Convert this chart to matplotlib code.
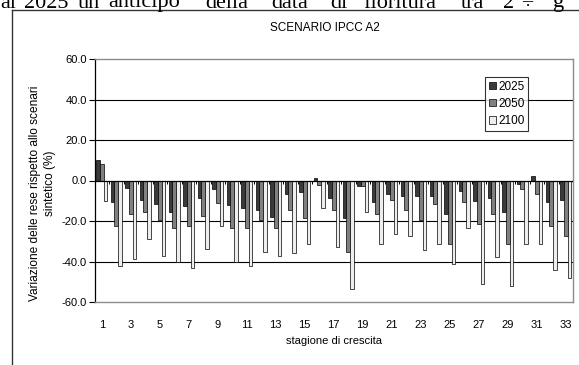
import numpy as np
import matplotlib
matplotlib.use("Agg")
import matplotlib.pyplot as plt
from matplotlib.patches import Patch
from matplotlib.lines import Line2D

# stagioni di crescita 1..33, variazione delle rese (%)
stagioni = np.arange(1, 34)
v2025 = [10, -10.7, -3.8, -9.7, -11.5, -15.5, -12.7, -8.5, -4, -12, -13.5,
         -14.5, -17.8, -6.5, -5.8, 1, -8.5, -18.4, -2.7, -10.7, -6.5, -7.8,
         -7.8, -7.8, -16.4, -5, -10, -8.5, -15.6, -1.6, 2, -10.7, -9.7]
v2050 = [8, -22.6, -16.5, -15.5, -19.5, -23.5, -22.6, -17.5, -11, -23.5, -23.5,
         -19.5, -23.5, -14.5, -18.5, -2, -14.5, -35.2, -2.7, -16.3, -9.7, -14.8,
         -19.7, -11.5, -31.5, -10.7, -21.7, -16.4, -31.5, -4, -6.5, -22.5, -27.4]
v2100 = [-10, -42.3, -39, -29, -37.3, -40.2, -43, -34, -22.6, -40, -42,
         -35.5, -37.4, -36, -31.3, -13.5, -33, -53.7, -15.5, -31.3, -26.3, -27.4,
         -34.3, -31.5, -41, -23.6, -51, -38, -52, -31.5, -31.5, -44, -48]
serie = ["2025", "2050", "2100"]
colori = ["#3a3a3a", "#808080", "#eeeeee"]
yticks = [-60, -40, -20, 0, 20, 40, 60]
top_words = ["al", "2025", "un", "anticipo", "della", "data", "di",
             "fioritura", "tra", "2", "÷", "g"]
top_x = [0, 24, 78, 108, 205, 271, 330, 363, 461, 503, 521, 553]

W, H = 579, 365
fig = plt.figure(figsize=(W / 100, H / 100), dpi=100)
fig.patch.set_facecolor("white")
plt.rcParams['font.family'] = ['Liberation Sans', 'DejaVu Sans']

ax = fig.add_axes([94.5 / W, 1 - 302 / H, (573 - 94.5) / W, (302 - 59) / H])

w = 0.25
for i, (vals, c) in enumerate(zip([v2025, v2050, v2100], colori)):
    ax.bar(stagioni + (i - 1) * w, vals, width=w, color=c,
           edgecolor="black", linewidth=0.5, zorder=3)

ax.set_xlim(0.5, 33.5)
ax.set_ylim(-60, 60)

for g in [-40, -20, 20, 40]:
    ax.axhline(g, color="black", lw=0.8, zorder=1)
ax.axhline(0, color="black", lw=0.9, zorder=4)
# tick marks on the category axis (at zero)
ax.vlines(np.arange(0.5, 34, 1), -1.6, 0, color="black", lw=0.7, zorder=4)

for s in ["top", "right", "bottom"]:
    ax.spines[s].set_color("#8c8c8c")
    ax.spines[s].set_linewidth(1.0)
ax.spines["left"].set_color("black")
ax.spines["left"].set_linewidth(0.9)

ax.set_yticks(yticks)
ax.set_yticklabels(["%.1f" % t for t in yticks], fontsize=8)
ax.tick_params(axis="y", length=4, width=0.8, pad=1.5)
ax.set_xticks(stagioni[::2])
ax.set_xticklabels([str(s) for s in stagioni[::2]], fontsize=8)
ax.tick_params(axis="x", length=0, pad=13)
ax.set_xlabel("stagione di crescita", fontsize=8, labelpad=4)

fig.text(325 / W, 1 - 28 / H, "SCENARIO IPCC A2", fontsize=8.5,
         ha="center", va="center")

fig.text(35 / W, 1 - 301 / H, "Variazione delle rese rispetto allo scenari",
         fontsize=8.6, rotation=90, ha="center", va="bottom")
fig.text(50 / W, 1 - 183 / H, "sintetico (%)", fontsize=8.6, rotation=90,
         ha="center", va="center")

handles = [Patch(facecolor=c, edgecolor="black", linewidth=0.5) for c in colori]
leg = fig.legend(handles, serie, loc="upper left",
                 bbox_to_anchor=(485 / W, 1 - 77 / H), fontsize=8.5,
                 frameon=True, fancybox=False, edgecolor="black",
                 handlelength=0.6, handleheight=0.6, handletextpad=0.2,
                 borderpad=0.3, labelspacing=0.45, borderaxespad=0)
leg.get_frame().set_linewidth(0.8)
leg.set_zorder(10)

# outer frame of the document figure
fig.add_artist(Line2D([12 / W, 12 / W], [0, 1 - 10 / H], color="#333333",
                      lw=1.0, transform=fig.transFigure))
fig.add_artist(Line2D([12 / W, 1], [1 - 10 / H, 1 - 10 / H], color="#333333",
                      lw=1.0, transform=fig.transFigure))

for wd, x in zip(top_words, top_x):
    fig.text(x / W, 1 - 7.5 / H, wd, fontsize=16, family="Liberation Serif",
             ha="left", va="baseline")

fig.savefig("out.png", dpi=100)
